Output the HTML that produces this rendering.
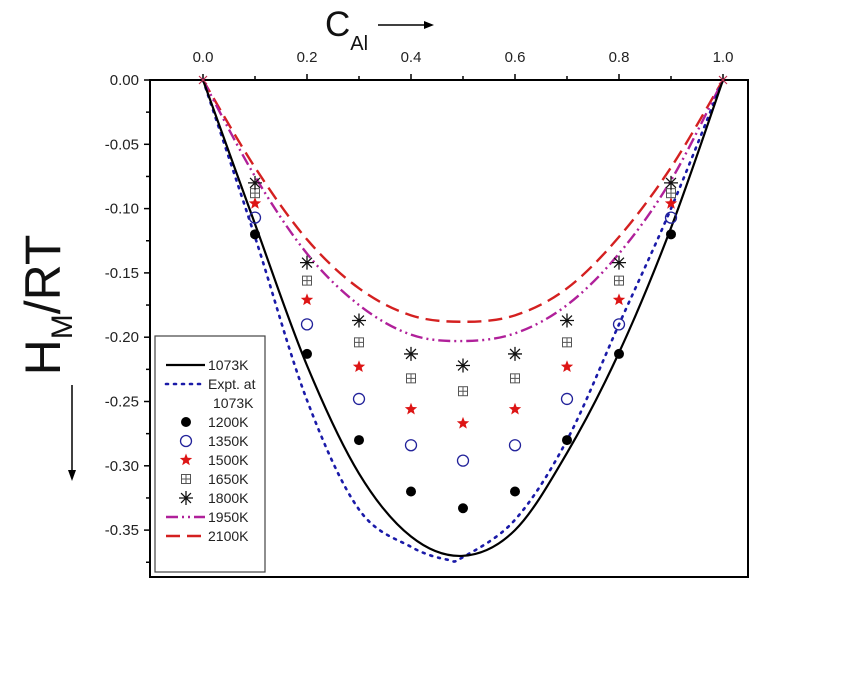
<!DOCTYPE html>
<html><head><meta charset="utf-8"><style>
body{margin:0;background:#fff;}
svg text{font-family:"Liberation Sans",sans-serif;}
</style></head><body>
<svg id="chart" width="841" height="691" viewBox="0 0 841 691" xmlns="http://www.w3.org/2000/svg">
<rect width="841" height="691" fill="#fff"/>
<g id="axes"></g>
<g id="series"></g>
<g id="legend"></g>
</svg>
<script>
const xTicks=[0,0.2,0.4,0.6,0.8,1.0];
const xTickLabels=["0.0","0.2","0.4","0.6","0.8","1.0"];
const yTicks=[0,-0.05,-0.10,-0.15,-0.20,-0.25,-0.30,-0.35];
const yTickLabels=["0.00","-0.05","-0.10","-0.15","-0.20","-0.25","-0.30","-0.35"];
const pointX=[0.1,0.2,0.3,0.4,0.5,0.6,0.7,0.8,0.9];
const pts1200=[-0.120,-0.213,-0.280,-0.320,-0.333,-0.320,-0.280,-0.213,-0.120];
const pts1350=[-0.107,-0.190,-0.248,-0.284,-0.296,-0.284,-0.248,-0.190,-0.107];
const pts1500=[-0.096,-0.171,-0.223,-0.256,-0.267,-0.256,-0.223,-0.171,-0.096];
const pts1650=[-0.088,-0.156,-0.204,-0.232,-0.242,-0.232,-0.204,-0.156,-0.088];
const pts1800=[-0.080,-0.142,-0.187,-0.213,-0.222,-0.213,-0.187,-0.142,-0.080];
const curveX=[0,0.1,0.2,0.3,0.4,0.5,0.6,0.7,0.8,0.9,1.0];
const line1073=[0,-0.112,-0.222,-0.306,-0.355,-0.370,-0.350,-0.290,-0.212,-0.115,0];
const exptX=[0,0.1,0.2,0.3,0.4,0.47,0.5,0.6,0.7,0.8,0.9,1.0];
const expt1073=[0,-0.122,-0.249,-0.334,-0.363,-0.373,-0.371,-0.342,-0.280,-0.190,-0.100,0];
const line1950=[0,-0.075,-0.135,-0.175,-0.198,-0.203,-0.197,-0.175,-0.135,-0.078,0];
const line2100=[0,-0.068,-0.124,-0.162,-0.183,-0.188,-0.183,-0.162,-0.122,-0.068,0];

const NS="http://www.w3.org/2000/svg";
const X=v=>203+v*520;
const Y=v=>80-v/0.05*64.3;
function mk(tag,attrs,parent,text){const e=document.createElementNS(NS,tag);for(const k in attrs)e.setAttribute(k,attrs[k]);if(text!==undefined)e.textContent=text;parent.appendChild(e);return e;}
const axes=document.getElementById('axes'),series=document.getElementById('series'),leg=document.getElementById('legend');

let f=mk('rect',{x:150,y:80,width:598,height:497,fill:'none',stroke:'#000','stroke-width':2},axes);


xTicks.forEach((t,i)=>{
  let l=mk('line',{x1:X(t),x2:X(t),y1:80,y2:74,stroke:'#000','stroke-width':1.5},axes);
  
  
  let tx=mk('text',{x:X(t),y:62,'font-size':15,'text-anchor':'middle',fill:'#222'},axes,xTickLabels[i]);
  
  
  if(i<xTicks.length-1){let m=mk('line',{x1:X(t+0.1),x2:X(t+0.1),y1:80,y2:76,stroke:'#000','stroke-width':1.5},axes);
  
  }
});
yTicks.forEach((t,i)=>{
  let l=mk('line',{x1:144,x2:150,y1:Y(t),y2:Y(t),stroke:'#000','stroke-width':1.5},axes);
  
  
  let m=mk('line',{x1:146,x2:150,y1:Y(t-0.025),y2:Y(t-0.025),stroke:'#000','stroke-width':1.5},axes);
  
  
  let tx=mk('text',{x:139,y:Y(t)+5,'font-size':15,'text-anchor':'end',fill:'#222'},axes,yTickLabels[i]);
  
  
});
let xt=mk('text',{x:325,y:36,'font-size':35,fill:'#111'},axes);


xt.innerHTML='C<tspan font-size="20" dy="14">Al</tspan>';
let xa=mk('g',{},axes);


mk('line',{x1:378,x2:426,y1:25,y2:25,stroke:'#000','stroke-width':1.5},xa);
mk('path',{d:'M434 25 L424 21 L424 29 Z',fill:'#000'},xa);
let yt=mk('text',{x:0,y:0,'font-size':50,fill:'#111',transform:'translate(60,305) rotate(-90)','text-anchor':'middle'},axes);


yt.innerHTML='H<tspan font-size="30" dy="12">M</tspan><tspan dy="-12">/RT</tspan>';
let ya=mk('g',{},axes);


mk('line',{x1:72,x2:72,y1:385,y2:472,stroke:'#000','stroke-width':1.5},ya);
mk('path',{d:'M72 481 L68 470 L76 470 Z',fill:'#000'},ya);

function smooth(xs,ys){const p=xs.map((x,i)=>[X(x),Y(ys[i])]);let d=`M${p[0][0]},${p[0][1]}`;
for(let i=0;i<p.length-1;i++){const p0=p[i-1]||p[i],p1=p[i],p2=p[i+1],p3=p[i+2]||p2;
d+=` C${p1[0]+(p2[0]-p0[0])/6},${p1[1]+(p2[1]-p0[1])/6} ${p2[0]-(p3[0]-p1[0])/6},${p2[1]-(p3[1]-p1[1])/6} ${p2[0]},${p2[1]}`;}return d;}
const lineStyles={l1073:{stroke:'#000',sw:2.2,dash:''},expt:{stroke:'#1a1aa8',sw:2.6,dash:'2 6',cap:'round'},l1950:{stroke:'#b0209a',sw:2.4,dash:'12 4 2 4 2 4'},l2100:{stroke:'#d42020',sw:2.4,dash:'14 7'}};
function drawLine(xs,ys,st,name){let p=mk('path',{d:smooth(xs,ys),fill:'none',stroke:st.stroke,'stroke-width':st.sw,'stroke-dasharray':st.dash,'stroke-linecap':st.cap||'butt'},series);

}
drawLine(curveX,line2100,lineStyles.l2100,'line-2100k');
drawLine(curveX,line1950,lineStyles.l1950,'line-1950k');
drawLine(exptX,expt1073,lineStyles.expt,'line-expt-1073k');
drawLine(curveX,line1073,lineStyles.l1073,'line-1073k');

function marker(kind,cx,cy,g){
 if(kind==='dot')mk('circle',{cx,cy,r:5,fill:'#000'},g);
 else if(kind==='ring')mk('circle',{cx,cy,r:5.5,fill:'none',stroke:'#22229a','stroke-width':1.3},g);
 else if(kind==='star'){let s='';for(let k=0;k<10;k++){const a=-Math.PI/2+k*Math.PI/5,r=k%2?2.8:6.5;s+=(cx+r*Math.cos(a))+','+(cy+r*Math.sin(a))+' ';}mk('polygon',{points:s,fill:'#dd1515'},g);}
 else if(kind==='box'){mk('rect',{x:cx-4.5,y:cy-4.5,width:9,height:9,fill:'none',stroke:'#555','stroke-width':1},g);mk('path',{d:`M${cx-4.5},${cy} H${cx+4.5} M${cx},${cy-4.5} V${cy+4.5}`,stroke:'#555','stroke-width':1},g);}
 else if(kind==='asterisk'){let d='';for(let k=0;k<4;k++){const a=k*Math.PI/4;d+=`M${cx-7*Math.cos(a)},${cy-7*Math.sin(a)} L${cx+7*Math.cos(a)},${cy+7*Math.sin(a)} `;}mk('path',{d,stroke:'#111','stroke-width':1.3},g);}
}
const ptSeries=[[pts1200,'dot','points-1200k'],[pts1350,'ring','points-1350k'],[pts1500,'star','points-1500k'],[pts1650,'box','points-1650k'],[pts1800,'asterisk','points-1800k']];
ptSeries.forEach(([vals,kind,name])=>{let g=mk('g',{},series);
 
 
 vals.forEach((v,i)=>marker(kind,X(pointX[i]),Y(v),g));});
let z=mk('path',{d:`M${X(0)-4},${Y(0)-4} L${X(0)+4},${Y(0)+4} M${X(0)+4},${Y(0)-4} L${X(0)-4},${Y(0)+4} M${X(1)-4},${Y(0)-4} L${X(1)+4},${Y(0)+4} M${X(1)+4},${Y(0)-4} L${X(1)-4},${Y(0)+4}`,stroke:'#c03050','stroke-width':1.2},series);



mk('rect',{x:155,y:336,width:110,height:236,fill:'#fff',stroke:'#444','stroke-width':1.2},leg);
const legItems=[['line','l1073','1073K',370],['line','expt','Expt. at',389],['none','','1073K',408],['m','dot','1200K',427],['m','ring','1350K',446],['m','star','1500K',465],['m','box','1650K',484],['m','asterisk','1800K',503],['line','l1950','1950K',522],['line','l2100','2100K',541]];
legItems.forEach(([t,k,label,y])=>{let g=mk('g',{},leg);
 
 
 if(t==='line'){const s=lineStyles[k];mk('line',{x1:166,x2:205,y1:y-5,y2:y-5,stroke:s.stroke,'stroke-width':s.sw,'stroke-dasharray':s.dash,'stroke-linecap':s.cap||'butt'},g);}
 else if(t==='m')marker(k,186,y-5,g);
 mk('text',{x:t==='none'?213:208,y:y,'font-size':14,fill:'#222'},g,label);
});
</script>
</body></html>
